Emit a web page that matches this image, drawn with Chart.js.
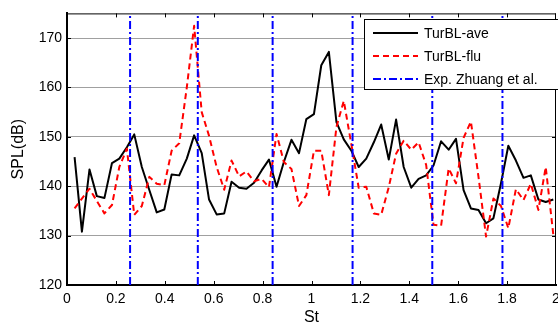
<!DOCTYPE html>
<html>
<head>
<meta charset="utf-8">
<script src="https://cdn.jsdelivr.net/npm/chart.js@4"></script>
<style>
  html, body { margin: 0; padding: 0; background: #fff; overflow: hidden; }
  #wrap { width: 570px; height: 327px; }
</style>
</head>
<body>
<div id="wrap"><canvas id="chart" width="570" height="327"></canvas></div>
<script>
/* ─── Data ──────────────────────────────────────── */
const ST = [
  0.031, 0.061, 0.092, 0.122, 0.153, 0.184, 0.214, 0.245, 0.275, 0.306,
  0.337, 0.367, 0.398, 0.428, 0.459, 0.490, 0.520, 0.551, 0.581, 0.612,
  0.643, 0.673, 0.704, 0.734, 0.765, 0.796, 0.826, 0.857, 0.887, 0.918,
  0.949, 0.979, 1.010, 1.040, 1.071, 1.102, 1.132, 1.163, 1.193, 1.224,
  1.255, 1.285, 1.316, 1.346, 1.377, 1.408, 1.438, 1.469, 1.499, 1.530,
  1.561, 1.591, 1.622, 1.652, 1.683, 1.714, 1.744, 1.775, 1.805, 1.836,
  1.867, 1.897, 1.928, 1.958, 1.989,
];

const TURBL_AVE = [
  145.9, 130.8, 143.4, 138.0, 137.6, 144.7, 145.6, 147.9, 150.5, 143.9,
  139.2, 134.7, 135.3, 142.4, 142.2, 145.6, 150.3, 146.7, 137.3, 134.3,
  134.5, 140.9, 139.7, 139.5, 140.7, 143.2, 145.4, 139.9, 144.9, 149.4,
  146.7, 153.6, 154.6, 164.5, 167.2, 153.0, 149.5, 147.2, 143.9, 145.6,
  148.9, 152.5, 145.4, 153.5, 143.9, 139.7, 141.5, 142.2, 144.2, 149.1,
  147.4, 149.6, 139.2, 135.5, 135.2, 132.5, 133.5, 140.6, 148.2, 145.2,
  141.7, 142.2, 137.3, 136.8, 137.3,
];

const TURBL_FLU = [
  135.5, 137.5, 139.5, 137.0, 134.5, 136.2, 143.9, 147.6, 134.2, 136.0,
  141.9, 140.5, 140.2, 147.2, 148.7, 160.0, 172.5, 155.0, 150.2, 143.9,
  139.3, 145.2, 142.0, 143.0, 141.0, 141.5, 139.8, 150.6, 144.9, 143.5,
  136.0, 138.2, 147.2, 147.2, 138.2, 152.0, 157.3, 148.5, 139.7, 139.9,
  134.5, 134.2, 139.8, 146.6, 149.2, 147.4, 148.9, 144.3, 132.2, 132.0,
  143.6, 140.6, 149.8, 153.1, 141.9, 129.8, 137.5, 136.0, 131.5, 139.4,
  137.2, 140.5, 135.2, 143.9, 130.2,
];

// experimental tonal peaks (vertical lines)
const EXP_ST = [0.258, 0.535, 0.841, 1.168, 1.494, 1.781];

const X_TICKS = [0, 0.2, 0.4, 0.6, 0.8, 1, 1.2, 1.4, 1.6, 1.8, 2];
const Y_TICKS = [120, 130, 140, 150, 160, 170];
const Y_MIN = 120;
const Y_MAX = 175;

const FONT = "'Liberation Sans', Arial, sans-serif";

/* ─── Helpers ───────────────────────────────────── */
const toPoints = ys => ST.map((x, i) => ({ x, y: ys[i] }));

function expPoints() {
  const pts = [];
  EXP_ST.forEach(x => {
    pts.push({ x, y: Y_MIN }, { x, y: Y_MAX }, { x, y: null });
  });
  return pts;
}

/* ─── Plugins ───────────────────────────────────── */
const frameTicks = {
  id: 'frameTicks',
  afterDatasetsDraw(chart) {
    const { ctx, chartArea: a, scales: { x, y } } = chart;
    ctx.save();
    ctx.strokeStyle = '#000';
    ctx.lineWidth = 1;
    ctx.beginPath();
    ctx.moveTo(a.left, a.top + 0.5);
    ctx.lineTo(a.right, a.top + 0.5);
    ctx.moveTo(a.right - 0.5, a.top);
    ctx.lineTo(a.right - 0.5, a.bottom);
    X_TICKS.slice(1, -1).forEach(v => {
      const px = Math.round(x.getPixelForValue(v)) + 0.5;
      ctx.moveTo(px, a.top); ctx.lineTo(px, a.top + 4);
      ctx.moveTo(px, a.bottom); ctx.lineTo(px, a.bottom - 4);
    });
    Y_TICKS.slice(1).forEach(v => {
      const py = Math.round(y.getPixelForValue(v)) + 0.5;
      ctx.moveTo(a.left, py); ctx.lineTo(a.left + 4, py);
      ctx.moveTo(a.right, py); ctx.lineTo(a.right - 4, py);
    });
    ctx.stroke();
    ctx.restore();
  },
};

const boxLegend = {
  id: 'boxLegend',
  afterDraw(chart) {
    const { ctx } = chart;
    const bx = 364.5, by = 19.5, bw = 210, bh = 70;
    ctx.save();
    ctx.fillStyle = '#fff';
    ctx.strokeStyle = '#000';
    ctx.lineWidth = 1;
    ctx.fillRect(bx, by, bw, bh);
    ctx.strokeRect(bx, by, bw, bh);
    ctx.font = '14px ' + FONT;
    ctx.textBaseline = 'middle';
    ctx.fillStyle = '#000';
    const rows = [33, 56, 79];
    chart.data.datasets.forEach((ds, i) => {
      const yy = rows[i];
      ctx.strokeStyle = ds.borderColor;
      ctx.lineWidth = ds.borderWidth;
      ctx.setLineDash(ds.borderDash || []);
      ctx.beginPath();
      ctx.moveTo(373, yy);
      ctx.lineTo(418, yy);
      ctx.stroke();
      ctx.setLineDash([]);
      ctx.fillText(ds.label, 424, yy + 1);
    });
    ctx.restore();
  },
};

/* ─── Chart ──────────────────────────────────────── */
new Chart(document.getElementById('chart'), {
  type: 'line',
  data: {
    datasets: [
      {
        label: 'TurBL-ave',
        data: toPoints(TURBL_AVE),
        borderColor: '#000000',
        borderWidth: 2,
        borderJoinStyle: 'round',
        pointRadius: 0,
        order: 2,
      },
      {
        label: 'TurBL-flu',
        data: toPoints(TURBL_FLU),
        borderColor: '#ff0000',
        borderWidth: 2,
        borderDash: [6, 4],
        borderJoinStyle: 'round',
        pointRadius: 0,
        order: 1,
      },
      {
        label: 'Exp. Zhuang et al.',
        data: expPoints(),
        borderColor: '#0000ff',
        borderWidth: 2,
        borderDash: [8, 3, 2, 3],
        pointRadius: 0,
        spanGaps: false,
        order: 0,
      },
    ],
  },
  options: {
    responsive: false,
    animation: false,
    layout: { padding: { top: 12, right: 14, bottom: 0, left: 0 } },
    plugins: { legend: { display: false }, tooltip: { enabled: false } },
    scales: {
      x: {
        type: 'linear',
        min: 0,
        max: 2,
        afterBuildTicks: s => { s.ticks = X_TICKS.map(value => ({ value })); },
        afterFit: s => { s.height = 42; },
        grid: { display: false, drawTicks: false },
        border: { display: true, color: '#000', width: 2 },
        ticks: {
          color: '#000',
          padding: 6,
          maxRotation: 0,
          callback: v => String(Number(v.toFixed(1))),
          font: { family: FONT, size: 14 },
        },
        title: {
          display: true,
          text: 'St',
          color: '#000',
          padding: { top: 0, bottom: 0 },
          font: { family: FONT, size: 16 },
        },
      },
      y: {
        min: Y_MIN,
        max: Y_MAX,
        afterBuildTicks: s => { s.ticks = Y_TICKS.map(value => ({ value })); },
        afterFit: s => { s.width = 67; },
        grid: {
          drawTicks: false,
          color: ctx => (ctx.tick && ctx.tick.value === Y_MIN ? 'rgba(0,0,0,0)' : '#a0a0a0'),
          lineWidth: 1,
        },
        border: { display: true, color: '#000', width: 2 },
        ticks: {
          color: '#000',
          padding: 5,
          callback: v => String(v),
          font: { family: FONT, size: 14 },
        },
        title: {
          display: true,
          text: 'SPL(dB)',
          color: '#000',
          padding: { top: 9, bottom: 0 },
          font: { family: FONT, size: 16 },
        },
      },
    },
  },
  plugins: [frameTicks, boxLegend],
});
</script>
</body>
</html>
